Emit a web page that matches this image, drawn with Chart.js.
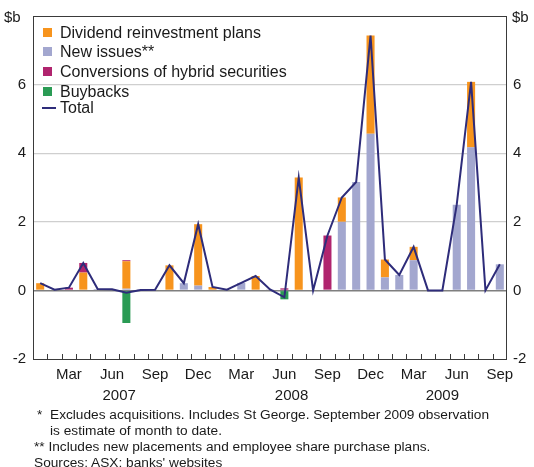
<!DOCTYPE html>
<html>
<head>
<meta charset="utf-8">
<script src="https://cdn.jsdelivr.net/npm/chart.js@4/dist/chart.umd.min.js"></script>
<style>
  html, body { margin: 0; padding: 0; background: #fff; }
  #wrap { position: relative; width: 534px; height: 467px; overflow: hidden; font-family: "Liberation Sans", Arial, sans-serif; color: #1a1a1a; }
  canvas { position: absolute; left: 0; top: 0; }
  .lg { position: absolute; left: 60px; font-size: 16px; line-height: 18px; white-space: nowrap; }
  .sw { position: absolute; left: 43px; width: 9px; height: 9px; }
  .ln { position: absolute; left: 42px; width: 14px; height: 2px; }
  .fn { position: absolute; font-size: 13.7px; line-height: 16px; white-space: nowrap; }
</style>
</head>
<body>
<div id="wrap">
  <canvas id="c" width="534" height="467"></canvas>
  <div id="legend"></div>
  <div class="fn" style="left:37px; top:407px;">*</div>
  <div class="fn" style="left:50px; top:407px;">Excludes acquisitions. Includes St George. September 2009 observation</div>
  <div class="fn" style="left:50px; top:423px;">is estimate of month to date.</div>
  <div class="fn" style="left:34px; top:439px;">** Includes new placements and employee share purchase plans.</div>
  <div class="fn" style="left:34px; top:455px;">Sources: ASX; banks' websites</div>
</div>
<script>
// ---- data ----
const months = ["Jan","Feb","Mar","Apr","May","Jun","Jul","Aug","Sep","Oct","Nov","Dec",
                "Jan","Feb","Mar","Apr","May","Jun","Jul","Aug","Sep","Oct","Nov","Dec",
                "Jan","Feb","Mar","Apr","May","Jun","Jul","Aug","Sep"];
const years = ["2007","2007","2007","2007","2007","2007","2007","2007","2007","2007","2007","2007",
               "2008","2008","2008","2008","2008","2008","2008","2008","2008","2008","2008","2008",
               "2009","2009","2009","2009","2009","2009","2009","2009","2009"];
const shownMonths = ["Mar","Jun","Sep","Dec"];
const dividendReinvestment = [0.21,0,0,0.52,0,0,0.80,0,0,0.73,0,1.79,
                              0.10,0,0,0.42,0,0,3.29,0,0,0.71,0,2.86,
                              0.52,0,0.39,0,0,0,1.91,0,0];
const newIssues = [0,0.02,0,0,0.04,0.03,0.05,0.01,0.02,0,0.21,0.14,
                   0,0.02,0.22,0,0.03,0,0,0,0,2.00,3.16,4.57,
                   0.38,0.45,0.88,0,0,2.50,4.17,0,0.76];
const conversions = [0,0,0.08,0.28,0,0,0.03,0,0,0,0,0,
                     0,0,0,0,0,0.06,0,0,1.60,0,0,0,
                     0,0,0,0,0,0,0,0,0];
const buybacks = [0,0,0,0,0,0,-0.95,0,0,0,0,0,
                  0,0,0,0,0,-0.26,0,0,0,0,0,0,
                  0,0,0,0,0,0,0,0,0];
const total = [0.21,0.02,0.08,0.80,0.04,0.03,-0.07,0.01,0.02,0.73,0.21,1.93,
               0.10,0.02,0.22,0.42,0.03,-0.20,3.29,0,1.60,2.71,3.16,7.43,
               0.90,0.45,1.27,0,0,2.50,6.08,0,0.76];
const yTicks = [-2,0,2,4,6,8];

const seriesNames = ["Dividend reinvestment plans","New issues**","Conversions of hybrid securities","Buybacks","Total"];
const colOrange = "#f7941d", colLav = "#a3a7cf", colMag = "#b0246e", colGreen = "#2a9b54", colNavy = "#2e2c7a";

// ---- legend (HTML) ----
(function(){
  const lg = document.getElementById('legend');
  const rows = [
    {name: seriesNames[0], c: colOrange, y: 24, t:'sq'},
    {name: seriesNames[1], c: colLav, y: 43, t:'sq'},
    {name: seriesNames[2], c: colMag, y: 63, t:'sq'},
    {name: seriesNames[3], c: colGreen, y: 83, t:'sq'},
    {name: seriesNames[4], c: colNavy, y: 99, t:'ln'}
  ];
  rows.forEach(r => {
    const s = document.createElement('div');
    if (r.t === 'sq') { s.className = 'sw'; s.style.top = (r.y + 4) + 'px'; }
    else { s.className = 'ln'; s.style.top = (r.y + 8) + 'px'; }
    s.style.background = r.c;
    lg.appendChild(s);
    const t = document.createElement('div');
    t.className = 'lg'; t.style.top = r.y + 'px'; t.textContent = r.name;
    lg.appendChild(t);
  });
})();

const FONT = { family: '"Liberation Sans", Arial, sans-serif', size: 15 };

const decor = {
  id: 'decor',
  afterDatasetsDraw(chart) {
    const ctx = chart.ctx, a = chart.chartArea, xs = chart.scales.x;
    ctx.save();
    ctx.strokeStyle = '#3a3a3a'; ctx.lineWidth = 1;
    ctx.strokeRect(Math.round(a.left) + 0.5, Math.round(a.top) + 0.5, Math.round(a.right - a.left) - 1, Math.round(a.bottom - a.top));
    ctx.beginPath();
    for (let i = 1; i < months.length; i++) {
      const x = Math.round((xs.getPixelForValue(i - 1) + xs.getPixelForValue(i)) / 2) + 0.5;
      ctx.moveTo(x, a.bottom); ctx.lineTo(x, a.bottom - 5);
    }
    ctx.stroke();
    ctx.fillStyle = '#1a1a1a';
    ctx.font = '15px "Liberation Sans", Arial, sans-serif';
    ctx.textAlign = 'center'; ctx.textBaseline = 'middle';
    const uniq = [...new Set(years)];
    uniq.forEach(y => {
      const first = years.indexOf(y), last = years.lastIndexOf(y);
      const cx = (xs.getPixelForValue(first) + xs.getPixelForValue(last)) / 2;
      ctx.fillText(y, cx, 396);
    });
    ctx.textAlign = 'left';
    ctx.fillText('$b', 4, 18);
    ctx.fillText('$b', 512, 18);
    ctx.restore();
  }
};

const gridColor = ctx => {
  const v = ctx.tick && ctx.tick.value;
  if (v === 0) return '#7f7f7f';
  if (v === 8 || v === -2) return 'rgba(0,0,0,0)';
  return '#cfcfcf';
};
const gridWidth = ctx => (ctx.tick && ctx.tick.value === 0) ? 1.5 : 1.2;

new Chart(document.getElementById('c'), {
  data: {
    labels: months,
    datasets: [
      { type: 'line', label: seriesNames[4], data: total, borderColor: colNavy, borderWidth: 2, pointRadius: 0, tension: 0, stack: 'line', order: 0, yAxisID: 'y' },
      { type: 'bar', label: seriesNames[1], data: newIssues, backgroundColor: colLav, stack: 's', order: 1 },
      { type: 'bar', label: seriesNames[0], data: dividendReinvestment, backgroundColor: colOrange, stack: 's', order: 1 },
      { type: 'bar', label: seriesNames[2], data: conversions, backgroundColor: colMag, stack: 's', order: 1 },
      { type: 'bar', label: seriesNames[3], data: buybacks, backgroundColor: colGreen, stack: 's', order: 1 }
    ]
  },
  options: {
    responsive: false,
    animation: false,
    devicePixelRatio: 1,
    layout: { padding: { top: 10, left: 0, right: 0, bottom: 0 } },
    datasets: { bar: { barPercentage: 0.56, categoryPercentage: 1 } },
    plugins: { legend: { display: false }, tooltip: { enabled: false } },
    scales: {
      x: {
        stacked: true,
        offset: true,
        grid: { display: false, drawTicks: false },
        border: { display: false },
        ticks: {
          autoSkip: false, maxRotation: 0, padding: 7, color: '#1a1a1a', font: FONT,
          callback: (v, i) => shownMonths.includes(months[i]) ? months[i] : ''
        },
        afterFit: s => { s.height = 108; }
      },
      y: {
        position: 'left', stacked: true, min: -2, max: 8,
        afterBuildTicks: s => { s.ticks = yTicks.map(v => ({ value: v })); },
        grid: { color: gridColor, lineWidth: gridWidth, drawTicks: false },
        border: { display: false },
        ticks: { padding: 7, color: '#1a1a1a', font: FONT, callback: v => v === 8 ? '' : v },
        afterFit: s => { s.width = 33; }
      },
      y2: {
        position: 'right', min: -2, max: 8,
        afterBuildTicks: s => { s.ticks = yTicks.map(v => ({ value: v })); },
        grid: { display: false, drawTicks: false },
        border: { display: false },
        ticks: { padding: 6, color: '#1a1a1a', font: FONT, callback: v => v === 8 ? '' : v },
        afterFit: s => { s.width = 27; }
      }
    }
  },
  plugins: [decor]
});
</script>
</body>
</html>
